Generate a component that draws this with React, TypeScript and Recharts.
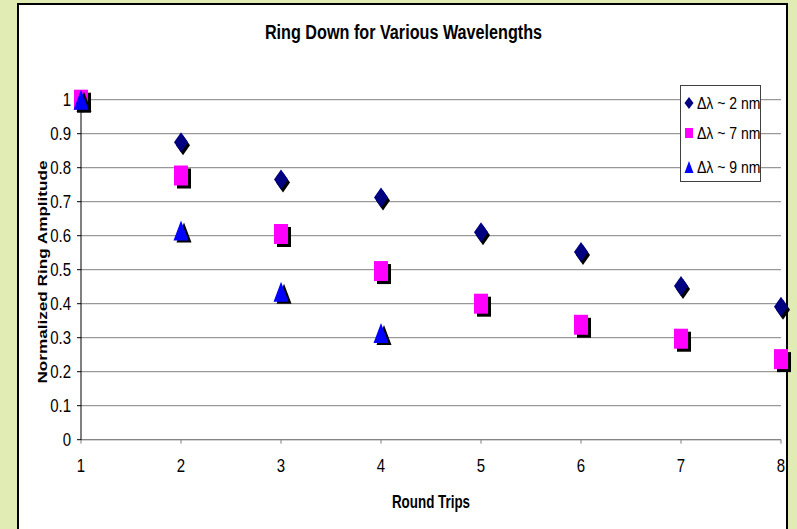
import { ScatterChart, Scatter, XAxis, YAxis, CartesianGrid } from "recharts";

const ROUND_TRIPS = [1, 2, 3, 4, 5, 6, 7, 8];
const Y_TICKS = [0, 0.1, 0.2, 0.3, 0.4, 0.5, 0.6, 0.7, 0.8, 0.9, 1];

const AMP_2NM = [1.0, 0.875, 0.765, 0.712, 0.61, 0.552, 0.452, 0.391];
const AMP_7NM = [1.0, 0.777, 0.605, 0.496, 0.4, 0.338, 0.297, 0.237];
const AMP_9NM = [1.0, 0.615, 0.435, 0.314];

const SERIES_NAMES = ["Δλ ~ 2 nm", "Δλ ~ 7 nm", "Δλ ~ 9 nm"];

const GREEN = "#e1ebb4";
const NAVY = "#000080";
const MAGENTA = "#ff00ff";
const BLUE = "#0000ff";
const FONT = '"Liberation Sans", Arial, sans-serif';

const toPoints = (vals: number[]) =>
  vals.map((v, i) => ({ x: ROUND_TRIPS[i], y: v }));

function diamondPts(cx: number, cy: number, w: number, h: number) {
  return `${cx},${cy - h} ${cx + w},${cy} ${cx},${cy + h} ${cx - w},${cy}`;
}

function triPts(cx: number, cy: number, w: number, h: number) {
  return `${cx},${cy - h} ${cx + w},${cy + h} ${cx - w},${cy + h}`;
}

function DiamondMark(props: any) {
  const { cx, cy } = props;
  return (
    <g>
      <polygon points={diamondPts(cx + 2, cy + 3, 7, 10)} fill="#000" />
      <polygon points={diamondPts(cx, cy, 7, 10)} fill={NAVY} />
    </g>
  );
}

function SquareMark(props: any) {
  const { cx, cy } = props;
  return (
    <g>
      <rect x={cx - 7 + 3} y={cy - 10 + 3} width={14} height={20} fill="#000" />
      <rect x={cx - 7} y={cy - 10} width={14} height={20} fill={MAGENTA} />
    </g>
  );
}

function TriangleMark(props: any) {
  const { cx, cy } = props;
  return (
    <g>
      <polygon points={triPts(cx + 3, cy + 2, 7.5, 10)} fill="#000" />
      <polygon points={triPts(cx, cy, 7.5, 10)} fill={BLUE} />
    </g>
  );
}

// tick labels in the source are a little stretched vertically
function XTick(props: any) {
  const { x, y, payload } = props;
  return (
    <text
      transform={`translate(${x},${y}) scale(1,1.2)`}
      textAnchor="middle"
      dy="0.71em"
      fontSize={15}
      fontFamily={FONT}
      fill="#000"
    >
      {payload.value}
    </text>
  );
}

function YTick(props: any) {
  const { x, y, payload } = props;
  return (
    <text
      transform={`translate(${x},${y}) scale(1,1.2)`}
      textAnchor="end"
      dy="0.355em"
      fontSize={15}
      fontFamily={FONT}
      fill="#000"
    >
      {payload.value}
    </text>
  );
}

function LegendIcon({ kind }: { kind: number }) {
  return (
    <svg width={12} height={14} style={{ display: "block" }}>
      {kind === 0 && <polygon points={diamondPts(6, 7, 4.5, 6)} fill={NAVY} />}
      {kind === 1 && <rect x={2} y={2} width={8} height={10} fill={MAGENTA} />}
      {kind === 2 && <polygon points={triPts(6, 7, 4.5, 6)} fill={BLUE} />}
    </svg>
  );
}

export default function App() {
  const legendTops = [10, 40, 74];
  return (
    <div
      style={{
        position: "absolute",
        left: 0,
        top: 0,
        width: 797,
        height: 529,
        background: GREEN,
        overflow: "hidden",
        fontFamily: FONT,
      }}
    >
      <div
        style={{
          position: "absolute",
          left: 17,
          top: 3,
          width: 771,
          height: 560,
          background: "#fff",
          border: "2px solid #000",
          boxSizing: "border-box",
        }}
      />
      <div style={{ position: "absolute", left: 0, top: 0 }}>
        <ScatterChart
          width={797}
          height={529}
          margin={{ top: 99.7, right: 16, bottom: 59.3, left: 21 }}
        >
          <CartesianGrid vertical={false} stroke="#808080" />
          <XAxis
            type="number"
            dataKey="x"
            domain={[1, 8]}
            ticks={ROUND_TRIPS}
            height={30}
            tickSize={4}
            tickMargin={16}
            stroke="#808080"
            tick={<XTick />}
          />
          <YAxis
            type="number"
            dataKey="y"
            domain={[0, 1]}
            ticks={Y_TICKS}
            width={60}
            tickSize={4}
            tickMargin={6}
            stroke="#000"
            tick={<YTick />}
          />
          <Scatter
            name={SERIES_NAMES[0]}
            data={toPoints(AMP_2NM)}
            shape={DiamondMark}
            isAnimationActive={false}
          />
          <Scatter
            name={SERIES_NAMES[1]}
            data={toPoints(AMP_7NM)}
            shape={SquareMark}
            isAnimationActive={false}
          />
          <Scatter
            name={SERIES_NAMES[2]}
            data={toPoints(AMP_9NM)}
            shape={TriangleMark}
            isAnimationActive={false}
          />
        </ScatterChart>
      </div>
      <svg
        width={797}
        height={529}
        style={{ position: "absolute", left: 0, top: 0, pointerEvents: "none" }}
      >
        <text
          transform="translate(403.5,39) scale(1,1.3)"
          textAnchor="middle"
          fontFamily={FONT}
          fontWeight="bold"
          fontSize={16.2}
          fill="#000"
        >
          Ring Down for Various Wavelengths
        </text>
        <text
          transform="translate(431,508) scale(1,1.35)"
          textAnchor="middle"
          fontFamily={FONT}
          fontWeight="bold"
          fontSize={13.4}
          fill="#000"
        >
          Round Trips
        </text>
        <text
          transform="translate(47,272) scale(1,1.28) rotate(-90)"
          textAnchor="middle"
          fontFamily={FONT}
          fontWeight="bold"
          fontSize={13.4}
          fill="#000"
        >
          Normalized Ring Amplitude
        </text>
      </svg>
      <div
        style={{
          position: "absolute",
          left: 680,
          top: 85,
          width: 81,
          height: 97,
          background: "#fff",
          border: "1px solid #404040",
          boxSizing: "border-box",
        }}
      >
        {SERIES_NAMES.map((name, i) => (
          <div
            key={name}
            style={{
              position: "absolute",
              left: 2,
              top: legendTops[i] - 1,
              height: 16,
              display: "flex",
              alignItems: "center",
              gap: 2,
              fontSize: 14,
              color: "#000",
              whiteSpace: "nowrap",
            }}
          >
            <LegendIcon kind={i} />
            <span style={{ display: "inline-block", transform: "scaleY(1.2)" }}>
              {name}
            </span>
          </div>
        ))}
      </div>
    </div>
  );
}
